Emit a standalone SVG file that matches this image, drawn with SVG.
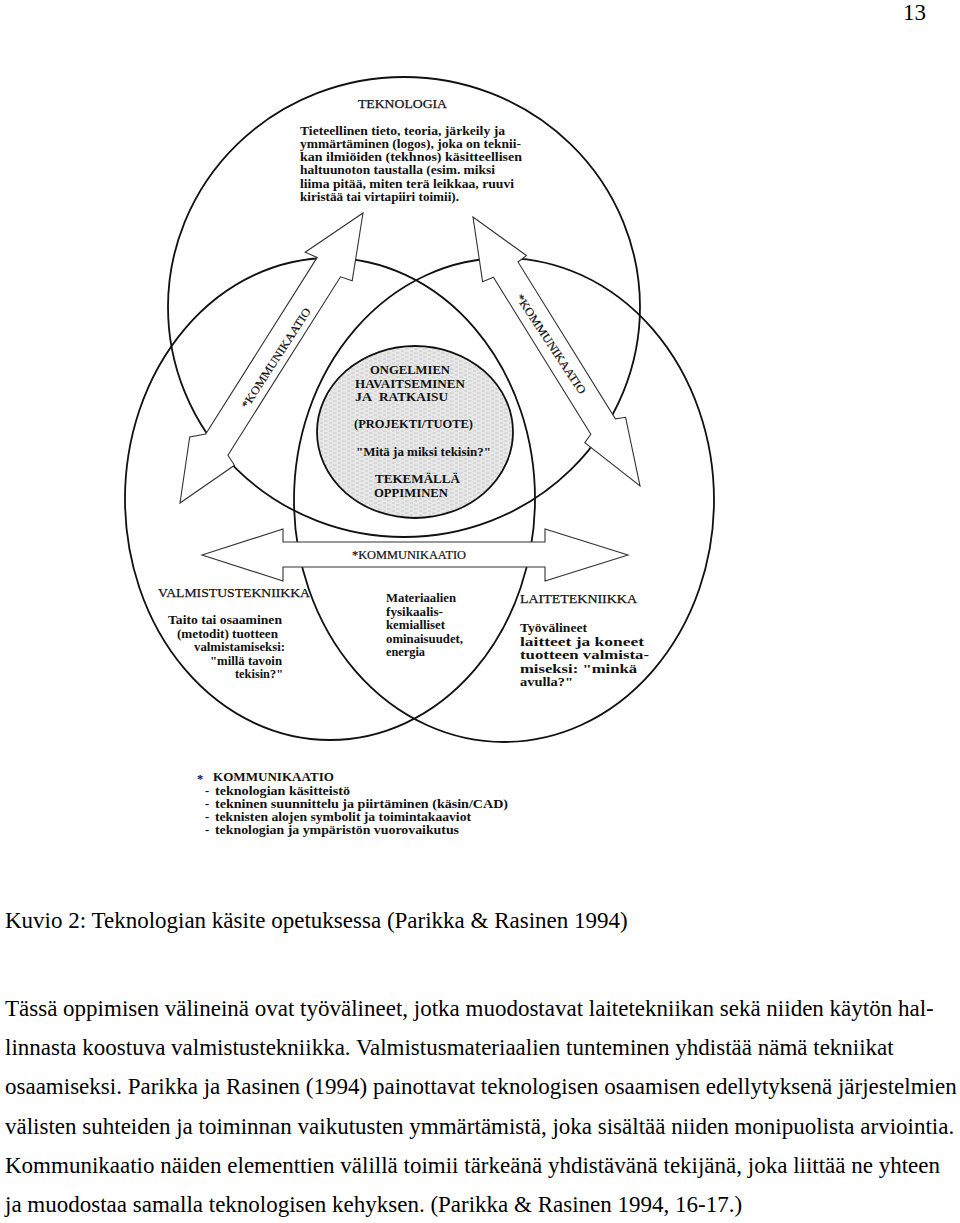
<svg xmlns="http://www.w3.org/2000/svg" width="960" height="1223" viewBox="0 0 960 1223">
<style>
.c{fill:none;stroke:#111;stroke-width:1.8}
.ar{fill:#fff;stroke:#333;stroke-width:1.1;stroke-linejoin:miter}
.d{font-family:"Liberation Serif","Times New Roman",serif;font-size:12.5px;font-weight:bold;fill:#111}
.h{font-family:"Liberation Serif","Times New Roman",serif;font-size:13px;fill:#111;stroke:#111;stroke-width:0.25}
.a{font-family:"Liberation Serif","Times New Roman",serif;font-size:11.5px;fill:#111;stroke:#111;stroke-width:0.2}
.b{font-family:"Liberation Serif","Times New Roman",serif;font-size:23px;fill:#000}
</style>
<defs>
<pattern id="stip" width="9" height="4" patternUnits="userSpaceOnUse">
<rect width="9" height="4" fill="#e8e8e8"/>
<path d="M0 1h3.5M5 3h3" stroke="#c4c4c4" stroke-width="0.9"/>
</pattern>
</defs>
<rect width="960" height="1223" fill="#fff"/>
<text class="b" x="926" y="20" text-anchor="end" font-size="22">13</text>

<g id="teknologia">
<ellipse class="c" cx="404" cy="307" rx="236" ry="230"/>
</g>
<g id="valmistustekniikka">
<ellipse class="c" cx="330" cy="499" rx="205" ry="241"/>
</g>
<g id="laitetekniikka">
<ellipse class="c" cx="504" cy="500" rx="210" ry="242"/>
</g>
<g id="ongelmien">
<ellipse cx="415" cy="432" rx="98" ry="86" fill="url(#stip)" stroke="#111" stroke-width="1.8"/>
</g>

<g id="connectors">
<polygon class="ar" points="363,213 352.2,280.7 340.5,276.8 227.9,455.2 234.5,465.3 180,503 189.7,437 205.7,434.1 317.2,257.4 305.2,252.2"/>
<polygon class="ar" points="473,217 526.4,255.6 518,262 615.4,418.9 625.6,417.3 640,486 584.8,442.6 590.8,434.2 493.4,277.3 482.6,281.7"/>
<polygon class="ar" points="202,555 283,529 283,542 545,542 545,529 628,555 545,581 545,567 283,567 283,581"/>
<text class="a" transform="translate(276,358) rotate(-57)" x="0" y="4" text-anchor="middle" textLength="117" lengthAdjust="spacingAndGlyphs">*KOMMUNIKAATIO</text>
<text class="a" transform="translate(551,344) rotate(56.5)" x="0" y="4" text-anchor="middle" textLength="117" lengthAdjust="spacingAndGlyphs">*KOMMUNIKAATIO</text>
<text class="a" x="352" y="559" textLength="114" lengthAdjust="spacingAndGlyphs">*KOMMUNIKAATIO</text>
</g>

<g id="teknologia-text">
<text class="h" x="358" y="108" textLength="89" lengthAdjust="spacingAndGlyphs">TEKNOLOGIA</text>
<g class="d">
<text x="300" y="134.5" textLength="205" lengthAdjust="spacingAndGlyphs">Tieteellinen tieto, teoria, järkeily ja</text>
<text x="300" y="147.8" textLength="221" lengthAdjust="spacingAndGlyphs">ymmärtäminen (logos), joka on teknii-</text>
<text x="300" y="161.1" textLength="222" lengthAdjust="spacingAndGlyphs">kan ilmiöiden (tekhnos) käsitteellisen</text>
<text x="300" y="174.4" textLength="195" lengthAdjust="spacingAndGlyphs">haltuunoton taustalla (esim. miksi</text>
<text x="300" y="187.7" textLength="214" lengthAdjust="spacingAndGlyphs">liima pitää, miten terä leikkaa, ruuvi</text>
<text x="300" y="201" textLength="159" lengthAdjust="spacingAndGlyphs">kiristää tai virtapiiri toimii).</text>
</g>
</g>

<g id="ongelmien-text" class="d">
<text x="370" y="374" textLength="80" lengthAdjust="spacingAndGlyphs">ONGELMIEN</text>
<text x="355" y="387.5" textLength="110" lengthAdjust="spacingAndGlyphs">HAVAITSEMINEN</text>
<text x="355" y="401" textLength="17" lengthAdjust="spacingAndGlyphs">JA</text>
<text x="379" y="401" textLength="69" lengthAdjust="spacingAndGlyphs">RATKAISU</text>
<text x="354" y="428" textLength="119" lengthAdjust="spacingAndGlyphs">(PROJEKTI/TUOTE)</text>
<text x="356" y="456" textLength="135" lengthAdjust="spacingAndGlyphs">"Mitä ja miksi tekisin?"</text>
<text x="375" y="483" textLength="85" lengthAdjust="spacingAndGlyphs">TEKEMÄLLÄ</text>
<text x="374" y="496.5" textLength="74" lengthAdjust="spacingAndGlyphs">OPPIMINEN</text>
</g>

<g id="valmistus-text">
<text class="h" x="158" y="597" textLength="152" lengthAdjust="spacingAndGlyphs">VALMISTUSTEKNIIKKA</text>
<g class="d">
<text x="168" y="624" textLength="114" lengthAdjust="spacingAndGlyphs">Taito tai osaaminen</text>
<text x="177" y="637.5" textLength="101" lengthAdjust="spacingAndGlyphs">(metodit) tuotteen</text>
<text x="194" y="651" textLength="91" lengthAdjust="spacingAndGlyphs">valmistamiseksi:</text>
<text x="210" y="664.5" textLength="72" lengthAdjust="spacingAndGlyphs">"millä tavoin</text>
<text x="235" y="678" textLength="48" lengthAdjust="spacingAndGlyphs">tekisin?"</text>
</g>
</g>

<g id="materiaalien-text" class="d">
<text x="386" y="602" textLength="70" lengthAdjust="spacingAndGlyphs">Materiaalien</text>
<text x="386" y="615.5" textLength="57" lengthAdjust="spacingAndGlyphs">fysikaalis-</text>
<text x="386" y="629" textLength="59" lengthAdjust="spacingAndGlyphs">kemialliset</text>
<text x="386" y="642.5" textLength="77" lengthAdjust="spacingAndGlyphs">ominaisuudet,</text>
<text x="386" y="656" textLength="39" lengthAdjust="spacingAndGlyphs">energia</text>
</g>

<g id="laite-text">
<text class="h" x="520" y="603" textLength="117" lengthAdjust="spacingAndGlyphs">LAITETEKNIIKKA</text>
<g class="d">
<text x="520" y="632" textLength="67" lengthAdjust="spacingAndGlyphs">Työvälineet</text>
<text x="520" y="645.5" textLength="124" lengthAdjust="spacingAndGlyphs">laitteet ja koneet</text>
<text x="520" y="659" textLength="129" lengthAdjust="spacingAndGlyphs">tuotteen valmista-</text>
<text x="520" y="672.5" textLength="117" lengthAdjust="spacingAndGlyphs">miseksi: "minkä</text>
<text x="520" y="686" textLength="53" lengthAdjust="spacingAndGlyphs">avulla?"</text>
</g>
</g>

<g id="legend" class="d">
<text x="197" y="783">*</text>
<text x="213" y="781" textLength="121" lengthAdjust="spacingAndGlyphs">KOMMUNIKAATIO</text>
<text x="205" y="795">-</text>
<text x="215" y="795" textLength="135" lengthAdjust="spacingAndGlyphs">teknologian käsitteistö</text>
<text x="205" y="808">-</text>
<text x="215" y="808" textLength="293" lengthAdjust="spacingAndGlyphs">tekninen suunnittelu ja piirtäminen (käsin/CAD)</text>
<text x="205" y="821">-</text>
<text x="215" y="821" textLength="256" lengthAdjust="spacingAndGlyphs">teknisten alojen symbolit ja toimintakaaviot</text>
<text x="205" y="834">-</text>
<text x="215" y="834" textLength="244" lengthAdjust="spacingAndGlyphs">teknologian ja ympäristön vuorovaikutus</text>
</g>

<g id="caption">
<text class="b" x="5" y="928">Kuvio 2: Teknologian käsite opetuksessa (Parikka &amp; Rasinen 1994)</text>
<text class="b" x="5" y="1016">Tässä oppimisen välineinä ovat työvälineet, jotka muodostavat laitetekniikan sekä niiden käytön hal-</text>
<text class="b" x="5" y="1055.2">linnasta koostuva valmistustekniikka. Valmistusmateriaalien tunteminen yhdistää nämä tekniikat</text>
<text class="b" x="5" y="1094.4">osaamiseksi. Parikka ja Rasinen (1994) painottavat teknologisen osaamisen edellytyksenä järjestelmien</text>
<text class="b" x="5" y="1133.6">välisten suhteiden ja toiminnan vaikutusten ymmärtämistä, joka sisältää niiden monipuolista arviointia.</text>
<text class="b" x="5" y="1172.8">Kommunikaatio näiden elementtien välillä toimii tärkeänä yhdistävänä tekijänä, joka liittää ne yhteen</text>
<text class="b" x="5" y="1212">ja muodostaa samalla teknologisen kehyksen. (Parikka &amp; Rasinen 1994, 16-17.)</text>
</g>
</svg>
